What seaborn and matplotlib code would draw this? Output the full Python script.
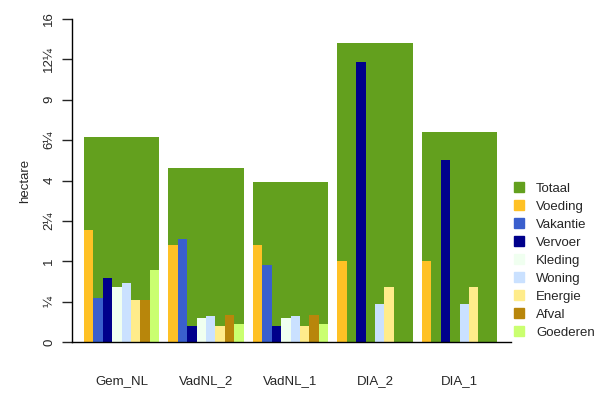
import numpy as np
import pandas as pd
import matplotlib
matplotlib.use("Agg")
import matplotlib.pyplot as plt
from matplotlib.patches import Patch
import seaborn as sns

# ---- data ----
scenarios = ["Gem_NL", "VadNL_2", "VadNL_1", "DIA_2", "DIA_1"]
totaal    = [6.46, 4.64, 3.93, 13.71, 6.76]
voeding   = [1.92, 1.44, 1.44, 1.00, 1.00]
vakantie  = [0.30, 1.63, 0.91, 0.0, 0.0]
vervoer   = [0.63, 0.039, 0.039, 12.02, 5.08]
kleding   = [0.46, 0.088, 0.088, 0.0, 0.0]
woning    = [0.53, 0.104, 0.104, 0.22, 0.22]
energie   = [0.27, 0.039, 0.039, 0.46, 0.46]
afval     = [0.27, 0.112, 0.112, 0.0, 0.0]
goederen  = [0.80, 0.05, 0.05, 0.0, 0.0]

components = ["Voeding", "Vakantie", "Vervoer", "Kleding", "Woning",
              "Energie", "Afval", "Goederen"]
comp_values = [voeding, vakantie, vervoer, kleding, woning, energie, afval, goederen]

ytick_vals = [0, 0.25, 1, 2.25, 4, 6.25, 9, 12.25, 16]
ytick_labels = ["0", "¼", "1", "2¼", "4", "6¼", "9", "12¼", "16"]

col_totaal = "#63A01E"
colors = ["#FFC125", "#3A5FCD", "#00008B", "#F0FFF0", "#CAE1FF",
          "#FFEC8B", "#B8860B", "#CAFF70"]

# ---- build tables ----
df_tot = pd.DataFrame({"scenario": scenarios, "value": totaal})
rows = []
for comp, vals in zip(components, comp_values):
    for s, v in zip(scenarios, vals):
        rows.append({"scenario": s, "component": comp, "value": v})
df = pd.DataFrame(rows)

sns.set_style("white")
plt.rcParams["font.family"] = ["Liberation Sans", "DejaVu Sans"]

fig = plt.figure(figsize=(6, 4), dpi=100)
ax = fig.add_axes([72/600, (400-342)/400, (511-72)/600, 323/400])

W = 0.89
sns.barplot(data=df_tot, x="scenario", y="value", order=scenarios,
            color=col_totaal, width=W, errorbar=None, ax=ax,
            saturation=1, linewidth=0)
sns.barplot(data=df, x="scenario", y="value", hue="component",
            order=scenarios, hue_order=components, palette=colors,
            width=W, errorbar=None, ax=ax, saturation=1, linewidth=0,
            legend=False)

ax.set_yscale("function", functions=(np.sqrt, np.square))
ax.set_ylim(0, 16)
ax.set_xlim(-0.586, 4.609)
ax.set_yticks(ytick_vals)
ax.set_yticklabels(ytick_labels, rotation=90, va="center", fontsize=9.5)
ax.tick_params(axis="y", length=7, width=1, pad=5, direction="out", left=True)
ax.tick_params(axis="x", length=0, pad=24, labelsize=9.5)
ax.set_xlabel("")
ax.set_ylabel("hectare", fontsize=9.5, labelpad=8.5)

for s in ["top", "right"]:
    ax.spines[s].set_visible(False)
for s in ["left", "bottom"]:
    ax.spines[s].set_color("black")
    ax.spines[s].set_linewidth(1)

handles = [Patch(color=col_totaal, label="Totaal")] + \
          [Patch(color=c, label=l) for c, l in zip(colors, components)]
fig.legend(handles=handles, loc="upper left", bbox_to_anchor=(509/600, (400-177)/400),
           frameon=False, fontsize=9.5, handlelength=0.75, handleheight=0.75,
           handletextpad=0.9, labelspacing=0.42, borderaxespad=0)

fig.savefig("out.png", dpi=100)
